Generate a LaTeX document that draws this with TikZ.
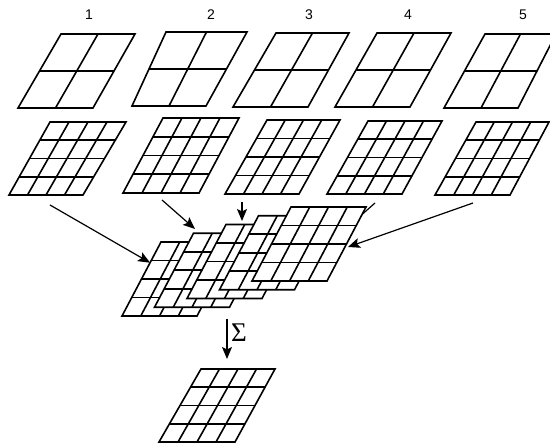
\documentclass[tikz,border=0pt]{standalone}
\usepackage{fontspec}
\setmainfont{Liberation Sans}
\newfontfamily\sigmafont{Liberation Serif}
\usetikzlibrary{calc,arrows.meta}
\newcommand\gridquad[2]{%
  \filldraw[gridframe] (#1-tl) -- (#1-tr) -- (#1-br) -- (#1-bl) -- cycle;
  \foreach \f in {#2}{%
    \draw[gridline] ($(#1-tl)!\f!(#1-bl)$) -- ($(#1-tr)!\f!(#1-br)$);
    \draw[gridline] ($(#1-tl)!\f!(#1-tr)$) -- ($(#1-bl)!\f!(#1-br)$);
  }}
\newcommand\quadat[5]{%
  \coordinate (#1-tl) at #2; \coordinate (#1-tr) at #3;
  \coordinate (#1-bl) at #4; \coordinate (#1-br) at #5;}
\begin{document}
\begin{tikzpicture}[x=1pt,y=-1pt,
  gridframe/.style={line width=1.6pt, draw=black, fill=white, line join=miter},
  gridline/.style={line width=1.6pt, draw=black},
  flow/.style={line width=1.2pt, -{Stealth[length=12pt,width=10pt,inset=2.5pt]}},
  lbl/.style={font=\fontsize{14}{16}\selectfont, inner sep=0pt}]
\clip (0,0) rectangle (550,446);
\useasboundingbox (0,0) rectangle (550,446);

% labels
\node[lbl] (n1) at (89,15) {1};
\node[lbl] (n2) at (211,15) {2};
\node[lbl] (n3) at (309,15) {3};
\node[lbl] (n4) at (408,15) {4};
\node[lbl] (n5) at (523,15) {5};

% row 1 (2x2)
\quadat{a1}{(61,34)}{(135,34)}{(18,108)}{(93,108)}
\quadat{a2}{(166,32)}{(247,32)}{(132,106)}{(206,106)}
\quadat{a3}{(276,33)}{(349,33)}{(233,107)}{(308,107)}
\quadat{a4}{(377,33)}{(451,33)}{(335,107)}{(410,107)}
\quadat{a5}{(485,34)}{(556,34)}{(444,108)}{(518,108)}
\foreach \g in {a1,a2,a3,a4,a5}{\gridquad{\g}{0.5}}

% row 2 (4x4)
\quadat{b1}{(50,122)}{(126,122)}{(9,195)}{(83,195)}
\quadat{b2}{(163,118)}{(239,118)}{(123,193)}{(199,193)}
\quadat{b3}{(267,120)}{(340,120)}{(225,194)}{(299,194)}
\quadat{b4}{(368,121)}{(442,121)}{(327,194)}{(402,194)}
\quadat{b5}{(476,122)}{(549,122)}{(435,195)}{(510,195)}
\foreach \g in {b1,b2,b3,b4,b5}{\gridquad{\g}{0.25,0.5,0.75}}

% stacked layers
\foreach \i in {0,...,4}{%
  \coordinate (m\i-tl) at ({161+32.5*\i},{242-8.75*\i});
  \coordinate (m\i-tr) at ({236+32.5*\i},{242-8.75*\i});
  \coordinate (m\i-bl) at ({122+32.5*\i},{316-8.75*\i});
  \coordinate (m\i-br) at ({197+32.5*\i},{316-8.75*\i});
}

% arrow end points
\coordinate (b1-out) at (50,205);
\coordinate (b2-out) at (162,200);
\coordinate (b3-out) at (242,202);
\coordinate (b4-out) at (375,203);
\coordinate (b5-out) at (473,203);
\coordinate (m0-in) at ($(m0-tl)!0.28!(m0-bl)$);
\coordinate (m1-in) at (195,229);
\coordinate (m2-in) at (242,221);
\coordinate (m3-in) at (309.5,261);
\coordinate (m4-in) at (348,247);

% hidden arrow to layer 4 (under layer 5)
\draw[flow] (b4-out) -- (m3-in);

\foreach \i in {0,...,4}{\gridquad{m\i}{0.25,0.5,0.75}}

\draw[flow] (b1-out) -- (m0-in);
\draw[flow] (b2-out) -- (m1-in);
\draw[flow] (b3-out) -- (m2-in);
\draw[flow] (b5-out) -- (m4-in);

% sum
\quadat{c}{(201,369)}{(275,369)}{(159,442)}{(235,442)}
\gridquad{c}{0.25,0.5,0.75}
\coordinate (s-top) at (227,319);
\coordinate (s-bot) at (227,359);
\draw[flow] (s-top) -- (s-bot);
\node[inner sep=0pt, font=\sigmafont\fontsize{27}{29}\selectfont] (sig) at (239,333) {Σ};
\end{tikzpicture}
\end{document}
